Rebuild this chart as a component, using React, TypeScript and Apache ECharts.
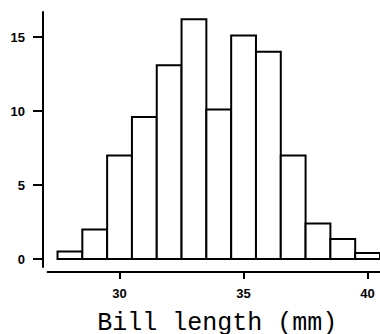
import React, { useEffect, useRef } from "react";
import * as echarts from "echarts";

const binStarts = [27.5, 28.5, 29.5, 30.5, 31.5, 32.5, 33.5, 34.5, 35.5, 36.5, 37.5, 38.5, 39.5];
const binWidth = 1;
const counts = [0.5, 2, 7, 9.6, 13.1, 16.2, 10.1, 15.1, 14, 7, 2.4, 1.35, 0.4];
const xTicks = [30, 35, 40];
const yTicks = [0, 5, 10, 15];

export default function App() {
  const ref = useRef<HTMLDivElement>(null);
  useEffect(() => {
    if (!ref.current) return;
    const chart = echarts.init(ref.current, null, { renderer: "svg" });
    const data = binStarts.map((s, i) => [s, s + binWidth, counts[i]]);
    chart.setOption({
      animation: false,
      backgroundColor: "#ffffff",
      grid: { left: 47.6, right: 0, top: 12, bottom: 67, containLabel: false, outerBoundsMode: "none" },
      xAxis: {
        type: "value",
        min: 27.1,
        max: 40.5,
        offset: 5,
        splitLine: { show: false },
        axisLine: { show: true, onZero: false, lineStyle: { color: "#000", width: 2 } },
        axisTick: { show: true, length: 7, customValues: xTicks, lineStyle: { color: "#000", width: 2 } },
        axisLabel: {
          customValues: xTicks,
          margin: 15,
          color: "#000",
          fontSize: 13,
          fontWeight: "bold",
          fontFamily: "Liberation Sans",
        },
        name: "Bill length (mm)",
        nameLocation: "middle",
        nameGap: 39,
        nameTextStyle: { color: "#000", fontSize: 25, fontFamily: "Liberation Mono", padding: [0, 0, 0, 7] },
      },
      yAxis: {
        type: "value",
        min: -0.54,
        max: 16.69,
        offset: 4.6,
        splitLine: { show: false },
        axisLine: { show: true, onZero: false, lineStyle: { color: "#000", width: 2 } },
        axisTick: { show: true, length: 10, customValues: yTicks, lineStyle: { color: "#000", width: 2 } },
        axisLabel: {
          customValues: yTicks,
          margin: 18,
          color: "#000",
          fontSize: 13,
          fontWeight: "bold",
          fontFamily: "Liberation Sans",
        },
      },
      series: [
        {
          type: "custom",
          data,
          encode: { x: [0, 1], y: 2 },
          renderItem: (params: any, api: any) => {
            const p0 = api.coord([api.value(0), 0]);
            const p1 = api.coord([api.value(1), api.value(2)]);
            return {
              type: "rect",
              shape: { x: p0[0], y: p1[1], width: p1[0] - p0[0], height: p0[1] - p1[1] },
              style: { fill: "#fff", stroke: "#000", lineWidth: 2 },
            };
          },
        },
      ],
    });
    return () => chart.dispose();
  }, []);
  return <div ref={ref} style={{ width: 380, height: 334, position: "absolute", left: 0, top: 0 }} />;
}
